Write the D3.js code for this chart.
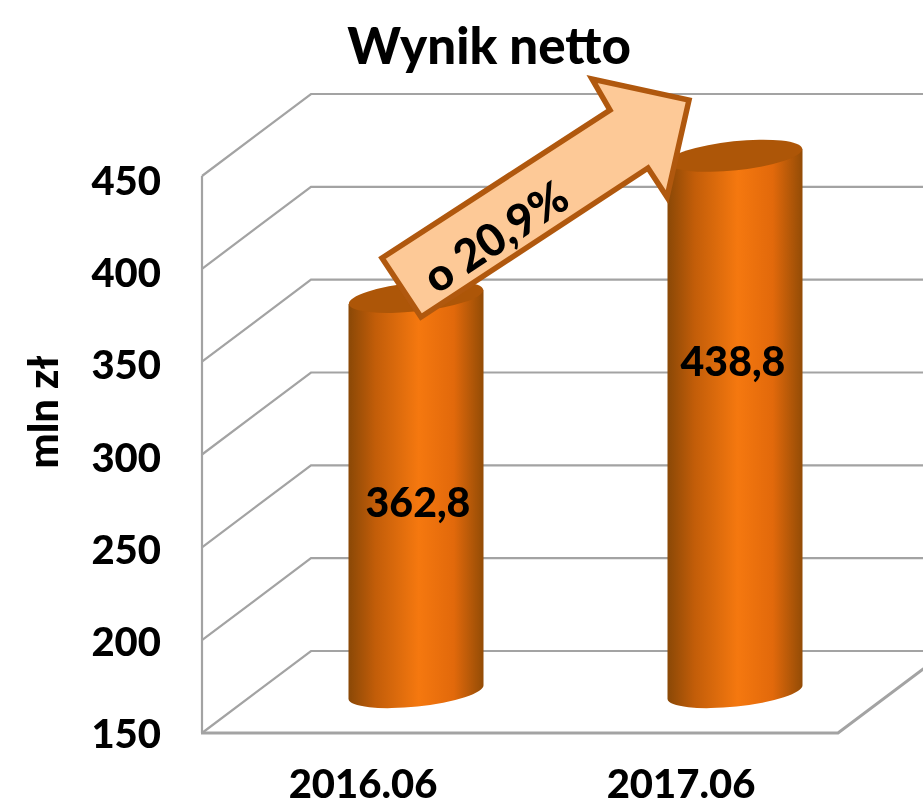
<!DOCTYPE html>
<html><head><meta charset="utf-8">
<script src="https://cdn.jsdelivr.net/npm/d3@7"></script>
<style>html,body{margin:0;padding:0;background:#fff;overflow:hidden}svg{display:block;filter:blur(.6px)}text{font-family:Lato,"Open Sans",sans-serif;font-weight:900;fill:#000}</style>
</head><body><svg id="c" width="923" height="808"></svg>
<script>
const categories = ["2016.06","2017.06"];
const values = [362.8,438.8];
const valueLabels = ["362,8","438,8"];
const ticks = [150,200,250,300,350,400,450];
const title = "Wynik netto";
const axisTitle = "mln zł";
const changeLabel = "o 20,9%";

const svg = d3.select("#c");
const depth = {x:109,y:82};
const plot = {left:202,right:838};
const domain = [150,450];
const yBack = d3.scaleLinear().domain(domain).range([651,94]);
const yFront = v => yBack(v)+depth.y;
const yBar = v => yBack(v)+depth.y/2;
const yTick = d3.scaleLinear().domain(domain).range([733,180]);
const x = d3.scalePoint().domain(categories).range([416,735]);
const xLabel = d3.scalePoint().domain(categories).range([363,681]);
const xValue = d3.scalePoint().domain(categories).range([418,733]);

const defs = svg.append("defs");
const g = defs.append("linearGradient").attr("id","cyl").attr("x1",0).attr("x2",1).attr("y1",0).attr("y2",0);
[[0,"#8a4806"],[.2,"#c25d09"],[.52,"#f5780f"],[.78,"#e2690b"],[1,"#934c06"]].forEach(s=>g.append("stop").attr("offset",s[0]).attr("stop-color",s[1]));

const grid = svg.append("g").attr("fill","none").attr("stroke","#a3a3a3").attr("stroke-width",2.2);
ticks.forEach(t=>{
  const p = d3.path();
  p.moveTo(plot.left,yFront(t)); p.lineTo(plot.left+depth.x,yBack(t)); p.lineTo(plot.right+depth.x+10,yBack(t));
  grid.append("path").attr("d",p.toString());
});
grid.append("line").attr("x1",plot.left).attr("x2",plot.left).attr("y1",yFront(450)).attr("y2",yFront(150));
const floor = d3.path();
floor.moveTo(plot.left-1,yFront(150)); floor.lineTo(plot.right,yFront(150)); floor.lineTo(plot.right+depth.x,yBack(150));
grid.append("path").attr("d",floor.toString()).attr("stroke-width",3);

const rx=67.5, ry=14.5, tilt=-6;
const dy = Math.tan(tilt*Math.PI/180)*rx;
values.forEach((v,i)=>{
  const cx=x(categories[i]), top=yBar(v), bot=yBar(150);
  const body = `M${cx-rx},${top-dy} L${cx-rx},${bot-dy} A${rx},${ry} ${tilt} 0 0 ${cx+rx},${bot+dy} L${cx+rx},${top+dy} Z`;
  svg.append("path").attr("d",body).attr("fill","url(#cyl)");
  svg.append("ellipse").attr("cx",cx).attr("cy",top).attr("rx",rx).attr("ry",ry)
    .attr("transform",`rotate(${tilt} ${cx} ${top})`).attr("fill","#ad5608");
  svg.append("text").attr("x",xValue(categories[i])).attr("y",top+205).attr("text-anchor","middle").attr("dominant-baseline","central")
    .attr("font-size",41).text(valueLabels[i]);
});

const arrow = [[382,258],[610,110],[592,79],[689,100],[667,197],[648,168],[421,317]];
svg.append("polygon").attr("points",arrow.join(" ")).attr("fill","#fdc997").attr("stroke","#b0580e").attr("stroke-width",5.5).attr("stroke-linejoin","miter");
svg.append("text").attr("transform","translate(495,236) rotate(-33.5)").attr("text-anchor","middle").attr("dominant-baseline","central")
  .attr("font-size",45).text(changeLabel);

ticks.forEach(t=>svg.append("text").attr("x",161).attr("y",yTick(t)).attr("text-anchor","end").attr("dominant-baseline","central").attr("font-size",40).text(t));
categories.forEach(c=>svg.append("text").attr("x",xLabel(c)).attr("y",783).attr("text-anchor","middle").attr("dominant-baseline","central").attr("font-size",40).text(c));
svg.append("text").attr("transform","translate(42,412) rotate(-90)").attr("text-anchor","middle").attr("dominant-baseline","central").attr("font-size",42).text(axisTitle);
svg.append("text").attr("x",489).attr("y",44).attr("text-anchor","middle").attr("dominant-baseline","central").attr("font-size",51).text(title);
</script></body></html>
